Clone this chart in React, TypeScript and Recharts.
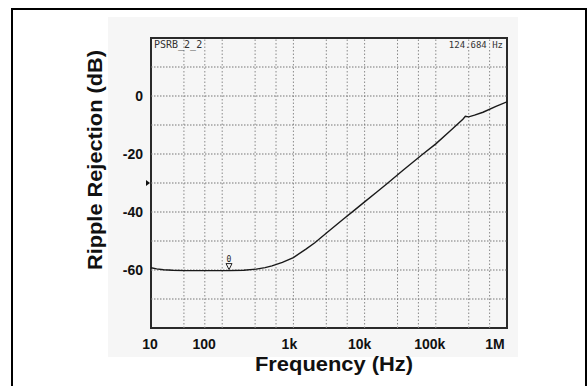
import {
  LineChart, Line, XAxis, YAxis, ReferenceLine, ReferenceArea, ReferenceDot, Label,
} from 'recharts';

// curve
const freqHz = [
  10, 12, 15, 20, 30, 50, 80, 125, 200, 300, 400, 500, 700, 1000, 1500, 2000, 3000,
  5000, 7000, 10000, 15000, 20000, 35000, 66000, 100000, 160000, 240000, 260000,
  290000, 350000, 460000, 700000, 1000000,
];
const rejectionDb = [
  -59.2, -59.6, -59.9, -60.1, -60.2, -60.2, -60.2, -60.2, -60.1, -59.7, -59.2, -58.6, -57.4,
  -55.7, -52.8, -50.6, -47.0, -42.5, -39.6, -36.5, -33.0, -30.5, -25.5, -20.0, -16.5, -12.0,
  -8.0, -7.0, -7.2, -6.6, -5.6, -3.6, -2.0,
];

const xTicks = [10, 100, 1000, 10000, 100000, 1000000];
const xTickLabels = ['10', '100', '1k', '10k', '100k', '1M'];
const yTicks = [-60, -40, -20, 0];
const gridX = [29, 57, 100, 290, 570, 1000, 2900, 5700, 10000, 29000, 57000, 100000, 290000, 570000];
const gridY = [-70, -60, -50, -40, -30, -20, -10, 0, 10];

const markerFreq = 124.684;
const markerDb = -60.2;
const traceName = 'PSRB_2_2';
const markerText = '124.684 Hz';

// the printed frequency labels sit a little left of their decade lines
const xLabelNudge = [-1, -18, -4, -5, -6, -12];

const data = freqHz.map((f, i) => ({ f, db: rejectionDb[i] }));

const SANS = 'Liberation Sans, Arial, sans-serif';
const MONO = 'DejaVu Sans Mono, Liberation Mono, monospace';
const AXIS_FONT = { fontSize: 14, fontWeight: 700, fill: '#111', fontFamily: SANS };

function FreqTick({ x, y, payload, index }: any) {
  return (
    <text
      x={x + (xLabelNudge[index] ?? 0)}
      y={y + 13}
      textAnchor="middle"
      style={AXIS_FONT}
      fill="#111"
    >
      {xTickLabels[xTicks.indexOf(payload.value)] ?? ''}
    </text>
  );
}

export default function App() {
  return (
    <div style={{ position: 'absolute', left: 0, top: 0, width: 588, height: 386, background: '#fff', overflow: 'hidden' }}>
      <div style={{ position: 'absolute', left: 108, top: 17, width: 410, height: 340, background: '#f6f6f6' }} />
      <div
        style={{
          position: 'absolute', left: 11, top: 8, width: 576, height: 384,
          border: '2px solid #000', boxSizing: 'border-box',
        }}
      />
      <div style={{ position: 'absolute', left: 0, top: 0 }}>
        <LineChart width={588} height={386} data={data} margin={{ top: 38, right: 81, bottom: 28, left: 91 }}>
          <XAxis
            dataKey="f"
            type="number"
            scale="log"
            domain={[10, 1000000]}
            allowDataOverflow
            ticks={xTicks}
            tick={<FreqTick />}
            tickLine={false}
            axisLine={false}
            height={30}
            interval={0}
          >
            <Label
              content={({ viewBox }: any) => (
                <text
                  x={334}
                  y={viewBox.y + viewBox.height + 13}
                  textAnchor="middle"
                  textLength={158}
                  lengthAdjust="spacingAndGlyphs"
                  style={{ fontSize: 20, fontWeight: 700, fontFamily: SANS }}
                  fill="#111"
                >
                  Frequency (Hz)
                </text>
              )}
            />
          </XAxis>
          <YAxis
            type="number"
            domain={[-80, 20]}
            ticks={yTicks}
            tick={AXIS_FONT}
            tickLine={false}
            axisLine={false}
            width={60}
            interval={0}
          >
            <Label
              content={({ viewBox }: any) => {
                const cx = viewBox.x + 11;
                const cy = 160;
                return (
                  <text
                    x={cx}
                    y={cy}
                    transform={`rotate(-90 ${cx} ${cy})`}
                    textAnchor="middle"
                    textLength={220}
                    lengthAdjust="spacingAndGlyphs"
                    style={{ fontSize: 20, fontWeight: 700, fontFamily: SANS }}
                    fill="#111"
                  >
                    Ripple Rejection (dB)
                  </text>
                );
              }}
            />
          </YAxis>
          {gridX.map(v => (
            <ReferenceLine key={`gx${v}`} x={v} stroke="#8a8a8a" strokeWidth={1} strokeDasharray="1.5 2" />
          ))}
          {gridY.map(v => (
            <ReferenceLine key={`gy${v}`} y={v} stroke="#777" strokeWidth={1} strokeDasharray="1.5 1.5" />
          ))}
          <ReferenceArea x1={10} x2={1000000} y1={-80} y2={20} fill="none" stroke="#2a2a2a" strokeWidth={2}>
            <Label position="insideTopLeft" offset={3} value={traceName} style={{ fontSize: 10, fontFamily: MONO, fill: '#333' }} />
            <Label position="insideTopRight" offset={4} value={markerText} style={{ fontSize: 9, fontFamily: MONO, fill: '#333' }} />
          </ReferenceArea>
          <Line
            type="linear"
            dataKey="db"
            stroke="#1a1a1a"
            strokeWidth={1.4}
            dot={false}
            isAnimationActive={false}
          />
          <ReferenceDot
            x={markerFreq}
            y={markerDb}
            shape={({ cx, cy }: any) => (
              <g>
                <polygon
                  points={`${cx - 3},${cy - 7} ${cx + 3},${cy - 7} ${cx},${cy - 1}`}
                  fill="none"
                  stroke="#222"
                  strokeWidth={1}
                />
                <text x={cx} y={cy - 9} textAnchor="middle" style={{ fontSize: 8, fontFamily: MONO }} fill="#222">0</text>
              </g>
            )}
          />
          <ReferenceDot
            x={10}
            y={-30}
            shape={({ cx, cy }: any) => (
              <polygon points={`${cx - 5},${cy - 3} ${cx - 1},${cy} ${cx - 5},${cy + 3}`} fill="#111" />
            )}
          />
        </LineChart>
      </div>
    </div>
  );
}
